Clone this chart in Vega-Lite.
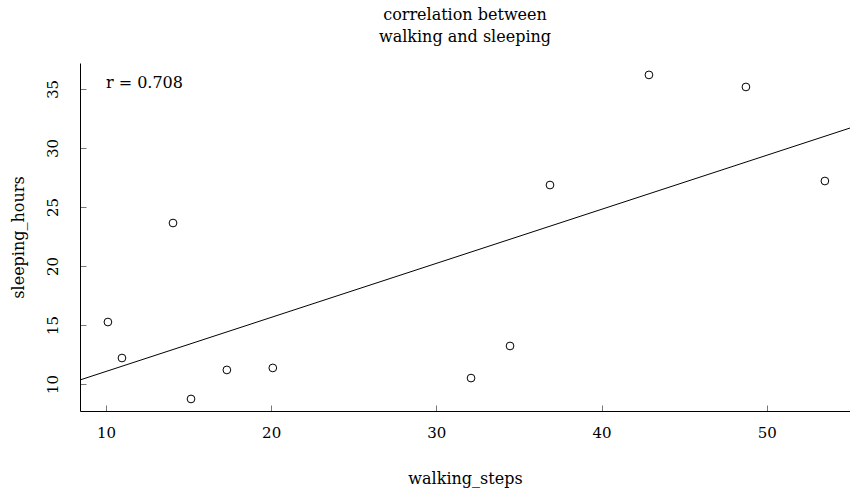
{
  "$schema": "https://vega.github.io/schema/vega-lite/v6.json",
  "width": 770,
  "height": 348,
  "autosize": "none",
  "padding": {"left": 80, "top": 63, "right": 0, "bottom": 78},
  "background": "white",
  "title": {
    "text": ["correlation between", "walking and sleeping"],
    "font": "DejaVu Serif",
    "fontSize": 16,
    "fontWeight": "normal",
    "color": "black",
    "anchor": "middle",
    "offset": 18,
    "lineHeight": 22
  },
  "config": {
    "view": {"stroke": null},
    "font": "DejaVu Serif",
    "axis": {
      "domainColor": "black",
      "domainWidth": 1,
      "tickColor": "#777777",
      "tickSize": -6,
      "grid": false,
      "labelFont": "DejaVu Serif",
      "labelFontSize": 15,
      "labelColor": "black",
      "titleFont": "DejaVu Serif",
      "titleFontSize": 16,
      "titleFontWeight": "normal",
      "titleColor": "black"
    }
  },
  "datasets": {
    "pts": [
      {"walking_steps": 10.12, "sleeping_hours": 15.25},
      {"walking_steps": 10.97, "sleeping_hours": 12.2},
      {"walking_steps": 14.06, "sleeping_hours": 23.64},
      {"walking_steps": 15.15, "sleeping_hours": 8.73},
      {"walking_steps": 17.32, "sleeping_hours": 11.19},
      {"walking_steps": 20.1, "sleeping_hours": 11.36},
      {"walking_steps": 32.1, "sleeping_hours": 10.5},
      {"walking_steps": 34.46, "sleeping_hours": 13.22},
      {"walking_steps": 36.88, "sleeping_hours": 26.86},
      {"walking_steps": 42.87, "sleeping_hours": 36.19},
      {"walking_steps": 48.74, "sleeping_hours": 35.17},
      {"walking_steps": 53.52, "sleeping_hours": 27.2}
    ],
    "fit": [
      {"walking_steps": 8.43, "sleeping_hours": 10.34},
      {"walking_steps": 55.04, "sleeping_hours": 31.69}
    ],
    "note": [
      {"walking_steps": 10.0, "sleeping_hours": 35.5, "label": "r = 0.708"}
    ]
  },
  "encoding": {
    "x": {
      "field": "walking_steps",
      "type": "quantitative",
      "scale": {"domain": [8.43, 55.04], "nice": false, "zero": false},
      "axis": {
        "title": "walking_steps",
        "values": [10, 20, 30, 40, 50],
        "labelPadding": 20,
        "titlePadding": 30,
        "labelFlush": false
      }
    },
    "y": {
      "field": "sleeping_hours",
      "type": "quantitative",
      "scale": {"domain": [7.71, 37.2], "nice": false, "zero": false},
      "axis": {
        "title": "sleeping_hours",
        "values": [10, 15, 20, 25, 30, 35],
        "labelAngle": -90,
        "labelAlign": "center",
        "labelBaseline": "bottom",
        "labelPadding": 26,
        "titlePadding": 19,
        "labelFlush": false
      }
    }
  },
  "layer": [
    {
      "data": {"name": "fit"},
      "mark": {"type": "line", "color": "black", "strokeWidth": 1, "clip": true}
    },
    {
      "data": {"name": "pts"},
      "mark": {"type": "point", "shape": "circle", "filled": false, "color": "black", "size": 60, "strokeWidth": 1, "opacity": 1}
    },
    {
      "data": {"name": "note"},
      "mark": {"type": "text", "align": "left", "baseline": "middle", "font": "DejaVu Serif", "fontSize": 16, "color": "black"},
      "encoding": {"text": {"field": "label"}}
    }
  ]
}
